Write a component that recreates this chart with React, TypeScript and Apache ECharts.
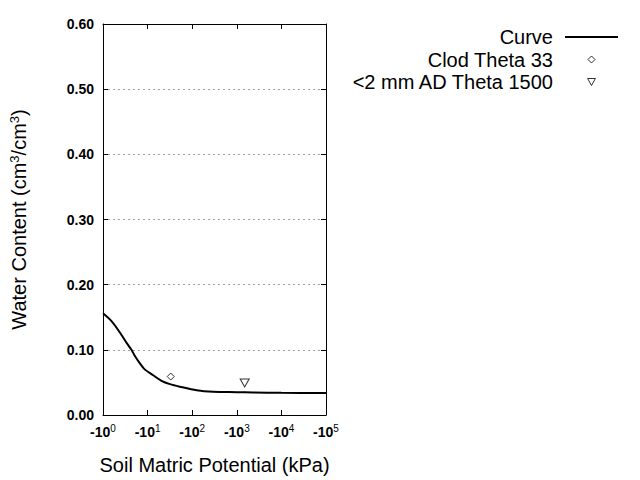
import React, { useEffect, useRef } from "react";
import * as echarts from "echarts";

const curveX = [1, 1.55, 2.37, 3.35, 4.35, 5.15, 6.6, 8.6, 13.3, 20.5, 31.6, 52.6, 126, 295, 1000, 2300, 10000, 100000];
const curveY = [0.156, 0.144, 0.127, 0.111, 0.1, 0.091, 0.08, 0.07, 0.061, 0.0525, 0.0474, 0.0435, 0.038, 0.0357, 0.035, 0.0345, 0.034, 0.0337];
const clodX = [33];
const clodY = [0.059];
const adX = [1500];
const adY = [0.049];
const yMin = 0;
const yMax = 0.6;
const yStep = 0.1;
const xMin = 1;
const xMax = 100000;

const FONT = "'Liberation Sans', Arial, sans-serif";
const TRI_DOWN = "path://M0,0 L10,0 L5,9 Z";
const DIAMOND = "path://M5,0 L10,5 L5,10 L0,5 Z";
const LINE_ICON = "path://M0,0 L53,0 L53,2 L0,2 Z";

export default function App() {
  const ref = useRef<HTMLDivElement>(null);
  useEffect(() => {
    if (!ref.current) return;
    const chart = echarts.init(ref.current, undefined, { renderer: "svg" });
    const tickCommon = { show: true, inside: true, length: 5, lineStyle: { color: "#000", width: 1 } };
    const axisLineCommon = { show: true, onZero: false, lineStyle: { color: "#000", width: 1 } };
    chart.setOption({
      animation: false,
      backgroundColor: "#fff",
      textStyle: { fontFamily: FONT },
      grid: { left: 103, right: 314, top: 24, bottom: 64, containLabel: false },
      legend: {
        orient: "vertical",
        align: "right",
        right: 17,
        top: 22,
        itemWidth: 53,
        itemHeight: 7,
        itemGap: 2.5,
        selectedMode: false,
        textStyle: { fontFamily: FONT, fontSize: 20, color: "#000", lineHeight: 20, padding: [0, 7, 0, 0] },
        data: [
          { name: "Curve", icon: LINE_ICON, itemStyle: { color: "#000", borderWidth: 0 } },
          { name: "Clod Theta 33", icon: DIAMOND, itemStyle: { color: "#fff", borderColor: "#000", borderWidth: 1 } },
          { name: "<2 mm AD Theta 1500", icon: TRI_DOWN, itemStyle: { color: "#fff", borderColor: "#000", borderWidth: 1 } },
        ],
      },
      xAxis: [
        {
          type: "log",
          logBase: 10,
          min: xMin,
          max: xMax,
          position: "bottom",
          axisLine: axisLineCommon,
          axisTick: tickCommon,
          minorTick: { show: false },
          splitLine: { show: false },
          name: "Soil Matric Potential (kPa)",
          nameLocation: "middle",
          nameGap: 40,
          nameTextStyle: { fontFamily: FONT, fontSize: 20, color: "#000" },
          axisLabel: {
            margin: 8,
            color: "#000",
            formatter: (v: number) => `{b|-10}{s|${Math.round(Math.log10(v))}}`,
            rich: {
              b: { fontFamily: FONT, fontSize: 14, fontWeight: "bold", color: "#000", lineHeight: 16, verticalAlign: "bottom" },
              s: { fontFamily: FONT, fontSize: 10, color: "#000", lineHeight: 10, verticalAlign: "top" },
            },
          },
        },
        {
          type: "log",
          logBase: 10,
          min: xMin,
          max: xMax,
          position: "top",
          axisLine: axisLineCommon,
          axisTick: tickCommon,
          axisLabel: { show: false },
          splitLine: { show: false },
        },
      ],
      yAxis: [
        {
          type: "value",
          min: yMin,
          max: yMax,
          interval: yStep,
          position: "left",
          axisLine: axisLineCommon,
          axisTick: tickCommon,
          splitLine: { show: true, lineStyle: { color: "#a0a0a0", type: [2, 3], width: 1 } },
          axisLabel: {
            margin: 9,
            color: "#000",
            fontFamily: FONT,
            fontSize: 14,
            fontWeight: "bold",
            formatter: (v: number) => v.toFixed(2),
          },
          name: "Water Content (cm{s|3}/cm{s|3})",
          nameLocation: "middle",
          nameGap: 73,
          nameRotate: 90,
          nameTextStyle: {
            fontFamily: FONT,
            fontSize: 20,
            color: "#000",
            lineHeight: 22,
            rich: {
              s: { fontFamily: FONT, fontSize: 13, color: "#000", lineHeight: 13, verticalAlign: "top" },
            },
          },
        },
        {
          type: "value",
          min: yMin,
          max: yMax,
          interval: yStep,
          position: "right",
          axisLine: axisLineCommon,
          axisTick: tickCommon,
          axisLabel: { show: false },
          splitLine: { show: false },
        },
      ],
      series: [
        {
          name: "Curve",
          type: "line",
          xAxisIndex: 0,
          yAxisIndex: 0,
          data: curveX.map((x, i) => [x, curveY[i]]),
          smooth: 0.3,
          symbol: "none",
          lineStyle: { color: "#000", width: 2 },
          itemStyle: { color: "#000" },
          z: 3,
        },
        {
          name: "Clod Theta 33",
          type: "scatter",
          xAxisIndex: 0,
          yAxisIndex: 0,
          data: clodX.map((x, i) => [x, clodY[i]]),
          symbol: "diamond",
          symbolSize: 7,
          itemStyle: { color: "#fff", borderColor: "#000", borderWidth: 1 },
          z: 4,
        },
        {
          name: "<2 mm AD Theta 1500",
          type: "scatter",
          xAxisIndex: 0,
          yAxisIndex: 0,
          data: adX.map((x, i) => [x, adY[i]]),
          symbol: TRI_DOWN,
          symbolSize: [9, 8],
          itemStyle: { color: "#fff", borderColor: "#000", borderWidth: 1 },
          z: 4,
        },
      ],
    });
    return () => chart.dispose();
  }, []);
  return <div ref={ref} style={{ width: 640, height: 480, position: "absolute", left: 0, top: 0 }} />;
}
